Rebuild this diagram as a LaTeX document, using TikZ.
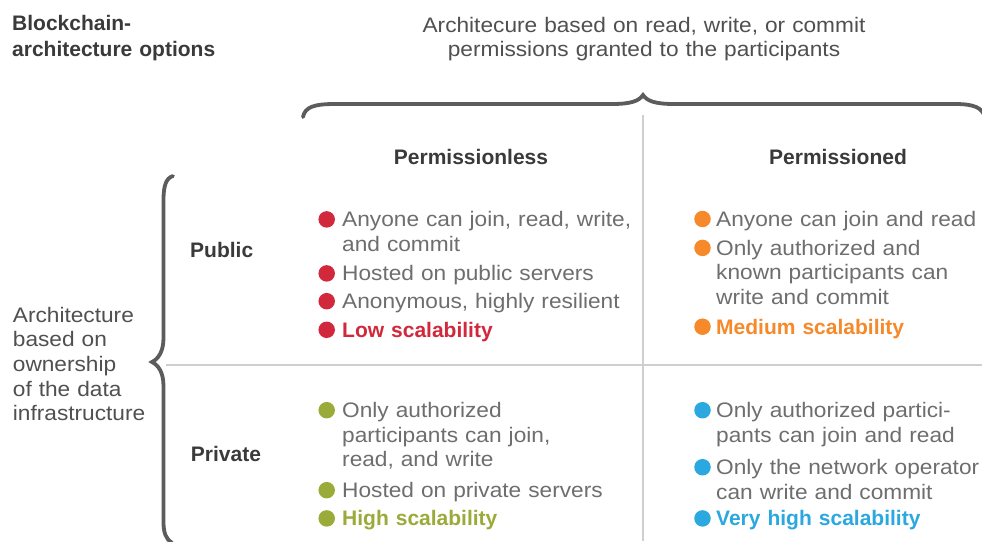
\documentclass[tikz,border=0pt]{standalone}
\usepackage{fontspec}
\setmainfont{Liberation Sans}[FakeStretch=1.08]
\newfontfamily\hfont{Liberation Sans}
\usetikzlibrary{calc}
\definecolor{cred}{HTML}{D2283C}
\definecolor{corange}{HTML}{F6892A}
\definecolor{colive}{HTML}{9BAB3A}
\definecolor{cblue}{HTML}{2BA8E0}
\definecolor{ctext}{HTML}{6E6E6E}
\definecolor{chead}{HTML}{3A3A3A}
\definecolor{ctitle}{HTML}{505050}
\definecolor{cline}{HTML}{CFCFCF}
\definecolor{cbrace}{HTML}{5C5C5C}
\tikzset{
  txt/.style={inner sep=0pt, anchor=base west, align=left, text width=320pt,
    font=\fontsize{21}{24.5}\selectfont},
  item/.style={txt, text=ctext},
  scal/.style={txt, font=\hfont\bfseries\fontsize{21}{24.5}\selectfont},
  head/.style={inner sep=0pt, anchor=base, text=chead,
    font=\hfont\bfseries\fontsize{21}{24.5}\selectfont},
  rowhead/.style={head, anchor=base west},
  dot/.style={circle, inner sep=0pt, minimum size=16.5pt, draw=none, fill=#1},
  sep/.style={draw=cline, line width=1.3pt},
  brace/.style={draw=cbrace, line width=3.8pt, line cap=round},
}
\begin{document}
\begin{tikzpicture}[x=1pt,y=-1pt]
\useasboundingbox[fill=white] (0,0) rectangle (982,541);

% titles
\node[txt, text=chead, font=\hfont\bfseries\fontsize{21}{26}\selectfont] (optitle) at (12,30)
  {Blockchain-\\architecture options};
\node[txt, text=ctitle, anchor=base, align=center, text width=520pt] (toptitle) at (644,32.3)
  {Architecure based on read, write, or commit\\permissions granted to the participants};
\node[txt, text=ctitle, font=\fontsize{21}{24.6}\selectfont] (lefttitle) at (12.7,322.3)
  {Architecture\\based on\\ownership\\of the data\\infrastructure};

% braces
\draw[brace] (303,117) .. controls (305,107) and (314,104) .. (335,104)
  -- (612,104) .. controls (631,104) and (639,101) .. (643,95)
  .. controls (647,101) and (655,104) .. (674,104)
  -- (955,104) .. controls (975,104) and (982,108) .. (985,117);
\draw[brace] (173,176) .. controls (166,178) and (163.5,186) .. (163.5,200)
  -- (163.5,338) .. controls (163.5,352) and (158,359) .. (152,362)
  .. controls (158,365) and (163.5,372) .. (163.5,386)
  -- (163.5,522) .. controls (163.5,533) and (166,539) .. (172,543);

% separators
\coordinate (vtop) at (643,115);
\coordinate (vbot) at (643,541);
\coordinate (hl) at (166,365);
\coordinate (hr) at (982,365);
\draw[sep] (vtop) -- (vbot);
\draw[sep] (hl) -- (hr);

% column / row headings
\node[head] (pless) at (471,164) {Permissionless};
\node[head] (pned) at (838,164) {Permissioned};
\node[rowhead] (public) at (190,257.7) {Public};
\node[rowhead] (private) at (190.7,461.7) {Private};

% public / permissionless
\node[dot=cred] (a1) at (326.7,219.4) {};
\node[item] (ta1) at (342,226.7) {Anyone can join, read, write,\\and commit};
\node[dot=cred] (a2) at (326.7,273.4) {};
\node[item] (ta2) at (342,280.7) {Hosted on public servers};
\node[dot=cred] (a3) at (326.7,301.2) {};
\node[item] (ta3) at (342,308.5) {Anonymous, highly resilient};
\node[dot=cred] (a4) at (326.7,329.8) {};
\node[scal, text=cred] (ta4) at (342,337.1) {Low scalability};

% public / permissioned
\node[dot=corange] (b1) at (702.5,219) {};
\node[item] (tb1) at (716,226.3) {Anyone can join and read};
\node[dot=corange] (b2) at (702.5,247.9) {};
\node[item] (tb2) at (716,255.2) {Only authorized and\\known participants can\\write and commit};
\node[dot=corange] (b3) at (702.5,326.7) {};
\node[scal, text=corange] (tb3) at (716,334) {Medium scalability};

% private / permissionless
\node[dot=colive] (c1) at (326.7,410.2) {};
\node[item] (tc1) at (342,417.5) {Only authorized\\participants can join,\\read, and write};
\node[dot=colive] (c2) at (326.7,490.2) {};
\node[item] (tc2) at (342,497.5) {Hosted on private servers};
\node[dot=colive] (c3) at (326.7,518.4) {};
\node[scal, text=colive] (tc3) at (342,525.7) {High scalability};

% private / permissioned
\node[dot=cblue] (d1) at (702.5,410.2) {};
\node[item] (td1) at (716,417.5) {Only authorized partici-\\pants can join and read};
\node[dot=cblue] (d2) at (702.5,467.2) {};
\node[item] (td2) at (716,474.5) {Only the network operator\\can write and commit};
\node[dot=cblue] (d3) at (702.5,518.4) {};
\node[scal, text=cblue] (td3) at (716,525.7) {Very high scalability};
\end{tikzpicture}
\end{document}
